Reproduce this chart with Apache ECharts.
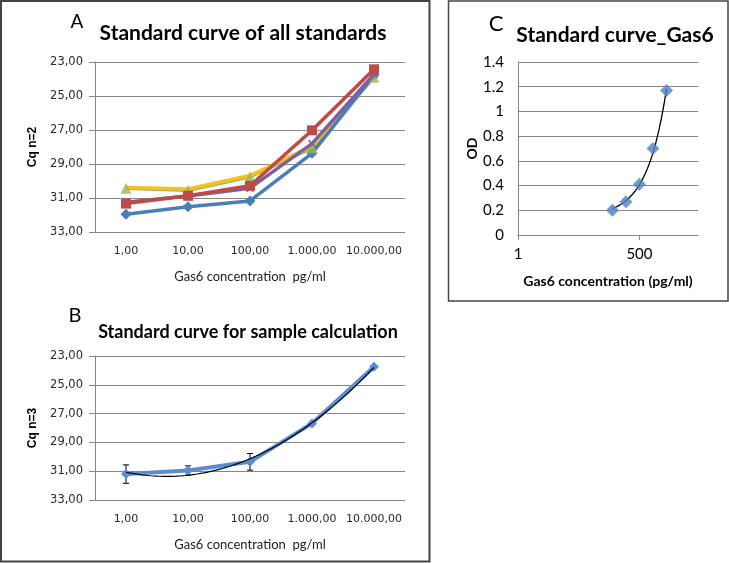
<!DOCTYPE html>
<html><head><meta charset="utf-8">
<script src="https://cdn.jsdelivr.net/npm/echarts@6/dist/echarts.min.js"></script>
<style>html,body{margin:0;padding:0;background:#fff}#c{width:729px;height:563px}</style>
</head><body><div id="c"></div>
<script>
// ---- data ----
const categories = ['1,00', '10,00', '100,00', '1.000,00', '10.000,00'];
const seriesA_blue = [31.95, 31.52, 31.17, 28.37, 23.77];
const seriesA_red = [31.33, 30.87, 30.28, 27.02, 23.43];
const seriesA_green = [30.42, 30.55, 29.75, 28.05, 23.90];
const seriesA_purple = [31.25, 30.88, 30.42, 27.80, 23.72];
const seriesA_yellow = [30.38, 30.47, 29.68, 27.95, 23.85];
const meanB = [31.20, 30.95, 30.35, 27.68, 23.74];
const errB = [0.64, 0.32, 0.58, 0.08, 0.06];
const concC = [125, 250, 500, 1000, 2000];
const odC = [0.20, 0.27, 0.41, 0.70, 1.17];
const concTickLabels = [1, 500];

// ---- trendlines (least squares fits of the data, like the spreadsheet trendlines) ----
function polyfit2(xs, ys) {
  let S = [0,0,0,0,0], T = [0,0,0];
  xs.forEach((x, i) => { for (let k = 0; k < 5; k++) S[k] += Math.pow(x, k); for (let k = 0; k < 3; k++) T[k] += Math.pow(x, k) * ys[i]; });
  const M = [[S[0],S[1],S[2],T[0]],[S[1],S[2],S[3],T[1]],[S[2],S[3],S[4],T[2]]];
  for (let c = 0; c < 3; c++) { for (let r = c + 1; r < 3; r++) { const f = M[r][c] / M[c][c]; for (let k = c; k < 4; k++) M[r][k] -= f * M[c][k]; } }
  const b = [0,0,0];
  for (let r = 2; r >= 0; r--) { let s = M[r][3]; for (let k = r + 1; k < 3; k++) s -= M[r][k] * b[k]; b[r] = s / M[r][r]; }
  return b;
}
const xB = meanB.map((_, i) => i + 1);
const cB = polyfit2(xB, meanB);
const trendB = [];
for (let x = 1; x <= 5.0001; x += 0.05) trendB.push([x, cB[0] + cB[1] * x + cB[2] * x * x]);

const mx = concC.reduce((a, b) => a + b, 0) / concC.length;
const my = odC.reduce((a, b) => a + b, 0) / odC.length;
let sxy = 0, sxx = 0;
concC.forEach((x, i) => { sxy += (x - mx) * (odC[i] - my); sxx += (x - mx) * (x - mx); });
const slopeC = sxy / sxx, interC = my - slopeC * mx;
const trendC = [];
const lo = Math.log(concC[0]), hi = Math.log(concC[concC.length - 1]);
for (let i = 0; i <= 60; i++) { const x = Math.exp(lo + (hi - lo) * i / 60); trendC.push([x, interC + slopeC * x]); }

// ---- chart ----
const grid = '#868686', txt = '#2a2a2a';
const numFmt = v => v.toFixed(2).replace('.', ',');
const chart = echarts.init(document.getElementById('c'));
function cqAxis(gi, name) {
  return {
    type: 'value', gridIndex: gi, inverse: true, min: 23, max: 33, interval: 2,
    name: name, nameLocation: 'middle', nameGap: 56,
    nameTextStyle: { fontFamily: 'Liberation Sans', fontWeight: 'bold', fontSize: 12, color: '#000' },
    axisLine: { show: true, lineStyle: { color: grid } },
    axisTick: { show: true, length: 6, lineStyle: { color: grid } },
    axisLabel: { formatter: numFmt, fontFamily: 'DejaVu Sans', fontSize: 11.5, color: txt, margin: 12 },
    splitLine: { lineStyle: { color: grid, width: 1 } }
  };
}
function catAxis(gi) {
  return {
    type: 'category', gridIndex: gi, data: categories, boundaryGap: true,
    name: 'Gas6 concentration  pg/ml', nameLocation: 'middle', nameGap: 38,
    nameTextStyle: { fontFamily: 'Lato', fontSize: 13, color: '#222' },
    axisLine: { show: false }, axisTick: { show: false },
    axisLabel: { fontFamily: 'DejaVu Sans', fontSize: 11, color: txt, margin: 14, interval: 0 }
  };
}
const lineA = (name, data, color, symbol, size, z) => ({
  name, type: 'line', xAxisIndex: 0, yAxisIndex: 0, data, z,
  symbol, symbolSize: size, showSymbol: symbol !== 'none',
  lineStyle: { color, width: 3.5 }, itemStyle: { color }
});
const xMark = 'path://M0,1.5L1.5,0L5,3.5L8.5,0L10,1.5L6.5,5L10,8.5L8.5,10L5,6.5L1.5,10L0,8.5L3.5,5Z';

chart.setOption({
  animation: false,
  backgroundColor: '#fff',
  grid: [
    { left: 95, top: 62, width: 310, height: 170 },
    { left: 95, top: 356, width: 310, height: 144 },
    { left: 518, top: 62, width: 180, height: 173 }
  ],
  xAxis: [
    catAxis(0),
    catAxis(1),
    { type: 'value', gridIndex: 1, min: 0.5, max: 5.5, show: false },
    {
      type: 'log', logBase: 500, gridIndex: 2, min: 1, max: 10000,
      name: 'Gas6 concentration (pg/ml)', nameLocation: 'middle', nameGap: 39,
      nameTextStyle: { fontFamily: 'Lato', fontWeight: 'bold', fontSize: 14, color: '#000' },
      axisLine: { show: true, lineStyle: { color: grid } },
      axisTick: { show: true, length: 5, customValues: concTickLabels, lineStyle: { color: grid } },
      axisLabel: { customValues: concTickLabels, formatter: v => String(Math.round(v)), fontFamily: 'Lato', fontSize: 15, color: '#000', margin: 12 },
      splitLine: { show: false }
    }
  ],
  yAxis: [
    cqAxis(0, 'Cq n=2'),
    cqAxis(1, 'Cq n=3'),
    {
      type: 'value', gridIndex: 2, min: 0, max: 1.4, interval: 0.2,
      name: 'OD', nameLocation: 'middle', nameGap: 38,
      nameTextStyle: { fontFamily: 'Lato', fontWeight: 'bold', fontSize: 14, color: '#000' },
      axisLine: { show: true, lineStyle: { color: grid } },
      axisTick: { show: false },
      axisLabel: { fontFamily: 'Lato', fontSize: 15, color: '#000', margin: 14 },
      splitLine: { lineStyle: { color: grid, width: 1 } }
    }
  ],
  series: [
    lineA('Std 3', seriesA_green, '#98B954', 'none', 0, 2),
    lineA('Std 5', seriesA_yellow, '#F7C01C', 'none', 0, 3),
    lineA('Std 1', seriesA_blue, '#4A7EBB', 'diamond', 11, 4),
    {
      name: 'Std 3 markers', type: 'scatter', xAxisIndex: 0, yAxisIndex: 0, data: seriesA_green, z: 5,
      symbol: 'triangle', symbolSize: 11, itemStyle: { color: '#98B954' }
    },
    lineA('Std 4', seriesA_purple, '#7D60A0', xMark, 8, 6),
    lineA('Std 2', seriesA_red, '#BE4B48', 'rect', 10, 7),
    {
      name: 'err', type: 'custom', xAxisIndex: 1, yAxisIndex: 1, z: 2,
      data: meanB.map((m, i) => [i, m - errB[i], m + errB[i]]),
      renderItem: (params, api) => {
        const a = api.coord([api.value(0), api.value(1)]);
        const b = api.coord([api.value(0), api.value(2)]);
        const w = 3, st = { stroke: '#000', lineWidth: 1 };
        return { type: 'group', children: [
          { type: 'line', shape: { x1: a[0], y1: a[1], x2: b[0], y2: b[1] }, style: st },
          { type: 'line', shape: { x1: a[0] - w, y1: a[1], x2: a[0] + w, y2: a[1] }, style: st },
          { type: 'line', shape: { x1: b[0] - w, y1: b[1], x2: b[0] + w, y2: b[1] }, style: st }
        ] };
      }
    },
    {
      name: 'Mean', type: 'line', xAxisIndex: 1, yAxisIndex: 1, data: meanB, z: 3,
      symbol: 'diamond', symbolSize: 10,
      lineStyle: { color: '#5B8CD2', width: 4 }, itemStyle: { color: '#5B8CD2' }
    },
    {
      name: 'Poly trend', type: 'line', xAxisIndex: 2, yAxisIndex: 1, data: trendB, z: 4,
      symbol: 'none', lineStyle: { color: '#000', width: 1.2 }
    },
    {
      name: 'Linear trend', type: 'line', xAxisIndex: 3, yAxisIndex: 2, data: trendC, z: 3,
      symbol: 'none', lineStyle: { color: '#000', width: 1.3 }
    },
    {
      name: 'OD', type: 'scatter', xAxisIndex: 3, yAxisIndex: 2, z: 4,
      data: concC.map((c, i) => [c, odC[i]]),
      symbol: 'diamond', symbolSize: 13, itemStyle: { color: '#4F81BD' }
    }
  ],
  graphic: [
    { type: 'rect', shape: { x: 1, y: 1, width: 428.5, height: 560.5 }, style: { fill: 'none', stroke: '#444', lineWidth: 2 }, silent: true },
    { type: 'rect', shape: { x: 448.5, y: 1, width: 279.5, height: 300 }, style: { fill: 'none', stroke: '#444', lineWidth: 1.5 }, silent: true },
    { type: 'text', x: 77, y: 22, style: { text: 'A', font: '19px Lato', fill: '#000', textAlign: 'center', textVerticalAlign: 'middle' } },
    { type: 'text', x: 243, y: 33, style: { text: 'Standard curve of all standards', font: 'bold 21px Lato', fill: '#000', textAlign: 'center', textVerticalAlign: 'middle' } },
    { type: 'text', x: 75, y: 316, style: { text: 'B', font: '20px Lato', fill: '#000', textAlign: 'center', textVerticalAlign: 'middle' } },
    { type: 'text', x: 248, y: 332, style: { text: 'Standard curve for sample calculation', font: 'bold 18px Lato', fill: '#000', textAlign: 'center', textVerticalAlign: 'middle' } },
    { type: 'text', x: 496, y: 24, style: { text: 'C', font: '22px Lato', fill: '#000', textAlign: 'center', textVerticalAlign: 'middle' } },
    { type: 'text', x: 615, y: 35, style: { text: 'Standard curve_Gas6', font: 'bold 21px Lato', fill: '#000', textAlign: 'center', textVerticalAlign: 'middle' } }
  ]
});
</script></body></html>
